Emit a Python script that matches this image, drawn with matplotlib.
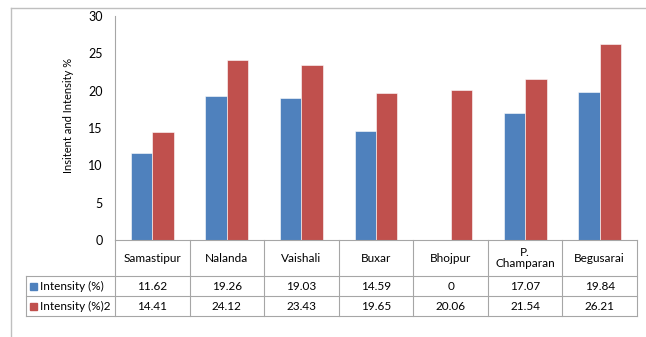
import matplotlib.pyplot as plt
from matplotlib.lines import Line2D
from matplotlib.patches import Rectangle
import matplotlib.transforms as mtransforms
import numpy as np

plt.rcParams['font.family'] = ['Lato', 'DejaVu Sans']

districts = ['Samastipur', 'Nalanda', 'Vaishali', 'Buxar', 'Bhojpur', 'P.\nChamparan', 'Begusarai']
intensity = [11.62, 19.26, 19.03, 14.59, 0, 17.07, 19.84]
intensity2 = [14.41, 24.12, 23.43, 19.65, 20.06, 21.54, 26.21]
series_names = ['Intensity (%)', 'Intensity (%)2']
blue = '#4F81BD'
red = '#C0504D'
grid_col = '#A6A6A6'
fs = 8.5

W, H = 646, 337
fig = plt.figure(figsize=(W / 100, H / 100), dpi=100)

def fx(px):
    return px / W

def fy(py):
    return 1 - py / H

# outer chart frame (only top and left visible)
fig.add_artist(Line2D([fx(11), 1], [fy(8), fy(8)], color='#BFBFBF', lw=1))
fig.add_artist(Line2D([fx(11), fx(11)], [fy(8), 0], color='#BFBFBF', lw=1))

ax = fig.add_axes([fx(115), fy(240), fx(637) - fx(115), fy(16) - fy(240)])
x = np.arange(len(districts))
bw = 0.287
ax.bar(x - bw / 2, intensity, bw, color=blue, edgecolor='white', linewidth=0.4)
ax.bar(x + bw / 2, intensity2, bw, color=red, edgecolor='white', linewidth=0.4)
ax.set_xlim(-0.5, len(districts) - 0.5)
ax.set_ylim(0, 30)
ax.set_yticks(range(0, 31, 5))
ax.tick_params(axis='y', length=0, labelsize=9, pad=9)
ax.set_xticks([])
for s in ['top', 'right', 'bottom']:
    ax.spines[s].set_visible(False)
ax.spines['left'].set_color(grid_col)
ax.spines['left'].set_linewidth(0.8)
ax.set_ylabel('Insitent and Intensity %', fontsize=8)
ax.yaxis.set_label_coords(-0.078, 0.554)

# data table below the axes, x in data units, y in figure pixels
trans = mtransforms.blended_transform_factory(ax.transData, fig.transFigure)
y_cat_top, y_r1, y_r2, y_r3 = fy(240), fy(276), fy(296), fy(316)
legend_left = ax.transData.inverted().transform(fig.transFigure.transform((fx(26), 0)))[0]
xl, xr = -0.5, len(districts) - 0.5

def hline(x0, x1, y):
    fig.add_artist(Line2D([x0, x1], [y, y], color=grid_col, lw=0.8, transform=trans))

def vline(xv, y0, y1):
    fig.add_artist(Line2D([xv, xv], [y0, y1], color=grid_col, lw=0.8, transform=trans))

hline(xl, xr, y_cat_top)
for yy in (y_r1, y_r2, y_r3):
    hline(legend_left, xr, yy)
for i in range(len(districts) + 1):
    vline(i - 0.5, y_cat_top, y_r3)
vline(legend_left, y_r1, y_r3)

txt = dict(transform=trans, ha='center', va='center', fontsize=fs, color='black')
for i, name in enumerate(districts):
    fig.text(i, (y_cat_top + y_r1) / 2, name, linespacing=1.05, **txt)
    fig.text(i, (y_r1 + y_r2) / 2, f'{intensity[i]:g}', **txt)
    fig.text(i, (y_r2 + y_r3) / 2, f'{intensity2[i]:g}', **txt)

for name, col, (ya, yb) in zip(series_names, [blue, red], [(y_r1, y_r2), (y_r2, y_r3)]):
    ym = (ya + yb) / 2
    fig.add_artist(Rectangle((fx(30), ym - 3.5 / H), 7 / W, 7 / H, color=col,
                             transform=fig.transFigure))
    fig.text(fx(40), ym, name, ha='left', va='center', fontsize=fs)

fig.savefig('out.png', dpi=100)
